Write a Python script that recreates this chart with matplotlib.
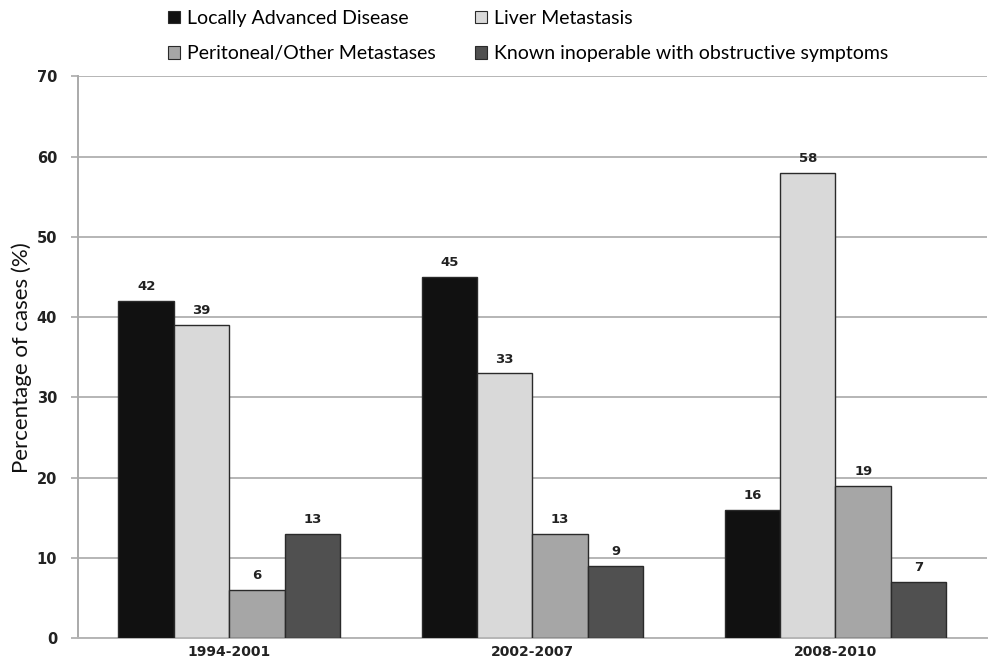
import matplotlib
matplotlib.use("Agg")
import matplotlib.pyplot as plt
import numpy as np
from matplotlib.patches import Patch

periods = ["1994-2001", "2002-2007", "2008-2010"]
series_names = [
    "Locally Advanced Disease",
    "Liver Metastasis",
    "Peritoneal/Other Metastases",
    "Known inoperable with obstructive symptoms",
]
locally_advanced = [42, 45, 16]
liver_metastasis = [39, 33, 58]
peritoneal_other = [6, 13, 19]
known_inoperable = [13, 9, 7]
series_values = [locally_advanced, liver_metastasis, peritoneal_other, known_inoperable]
series_colors = ["#111111", "#d9d9d9", "#a6a6a6", "#505050"]
y_ticks = [0, 10, 20, 30, 40, 50, 60, 70]

fig = plt.figure(figsize=(9.98, 6.63), dpi=100)
ax = fig.add_axes([0.078, 0.0377, 0.911, 0.847])

x = np.arange(len(periods))
width = 0.183
offsets = (np.arange(4) - 1.5) * width

for vals, off, col in zip(series_values, offsets, series_colors):
    bars = ax.bar(x + off, vals, width, color=col, edgecolor="#2a2a2a",
                  linewidth=1.0, zorder=3)
    for b, v in zip(bars, vals):
        ax.annotate(f"{v}", (b.get_x() + b.get_width() / 2, v),
                    xytext=(0, 5.5), textcoords="offset points",
                    ha="center", va="bottom", fontsize=9.5,
                    fontweight="bold", color="#222222",
                    family="DejaVu Sans")

ax.set_xlim(-0.5, 2.5)
ax.set_ylim(0, 70)
ax.set_yticks(y_ticks)
ax.set_xticks(x)
ax.set_xticklabels(periods, fontsize=10, fontweight="bold", color="#222222")
ax.tick_params(axis="x", length=0, pad=5)
ax.tick_params(axis="y", length=5, width=1.2, color="#aaaaaa",
               labelsize=10.5, labelcolor="#222222", pad=10)
for lbl in ax.get_yticklabels():
    lbl.set_fontweight("bold")

ax.yaxis.grid(True, color="#b5b5b5", linewidth=1.4, zorder=0)
ax.set_axisbelow(True)
for side in ["top", "right"]:
    ax.spines[side].set_visible(False)
ax.spines["left"].set_color("#aaaaaa")
ax.spines["left"].set_linewidth(1.4)
ax.spines["bottom"].set_color("#b5b5b5")
ax.spines["bottom"].set_linewidth(1.4)

ax.set_ylabel("Percentage of cases (%)", fontsize=16, family="Lato",
              color="#111111", labelpad=3)

handles = [Patch(facecolor=c, edgecolor="#2a2a2a", linewidth=0.8)
           for c in series_colors]
order = [0, 2, 1, 3]
fig.legend([handles[i] for i in order], [series_names[i] for i in order],
           ncol=2, loc="upper left", bbox_to_anchor=(168 / 998, 1 - 10 / 663),
           frameon=False, borderpad=0, borderaxespad=0,
           handlelength=0.62, handleheight=0.62, handletextpad=0.36,
           columnspacing=2.0, labelspacing=0.95,
           prop={"family": "Lato", "size": 14})

fig.savefig("out.png", dpi=100)
